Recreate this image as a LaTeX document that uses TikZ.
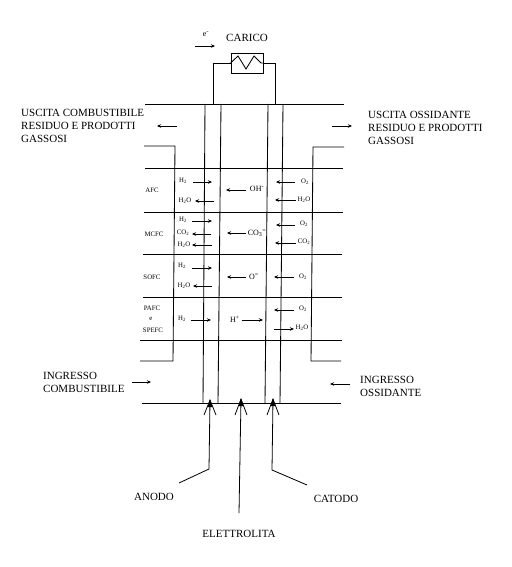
\documentclass[tikz,border=0pt]{standalone}
\usepackage{fontspec}
\setmainfont{Liberation Serif}
\usetikzlibrary{arrows.meta}
\newcommand{\sbs}[1]{\textsubscript{#1}}
\newcommand{\sps}[1]{\textsuperscript{#1}}
\tikzset{
  ln/.style={line width=0.85pt,black},
  flow/.style={line width=0.8pt,black,-{Stealth[length=4pt,width=3.5pt]}},
  pointer/.style={line width=0.8pt,black},
  big/.style={font=\fontsize{11}{12.7}\selectfont,inner sep=0pt,align=left},
  tiny/.style={font=\fontsize{6.8}{8}\selectfont,inner sep=0pt},
  ion/.style={font=\fontsize{8}{9}\selectfont,inner sep=0pt}
}
\begin{document}
\begin{tikzpicture}[x=1pt,y=-1pt]
\useasboundingbox (0,0) rectangle (511,567);
% main horizontal lines
\draw[ln] (145,104) -- (344,104);
\draw[ln] (145,168) -- (343,168);
\draw[ln] (144,212) -- (343,212);
\draw[ln] (143,254) -- (342,254);
\draw[ln] (143,297) -- (342,297);
\draw[ln] (140,340) -- (342,340);
\draw[ln] (142,403) -- (341,403);
% electrodes
\draw[ln] (205,104) -- (203,403);
\draw[ln] (221,104) -- (218,403);
\draw[ln] (268,104) -- (265,403);
\draw[ln] (283,104) -- (280,403);
% channel steps
\draw[ln] (144,146) -- (175,146) -- (173,361) -- (140,361);
\draw[ln] (344,147) -- (313,147) -- (311,361) -- (341,361);
% load
\node[draw,line width=0.85pt,black,minimum width=32pt,minimum height=20pt,inner sep=0pt] (load) at (247,63) {};
\draw[ln] (213,104) -- (213,63) -- (load.west);
\draw[ln] (275,104) -- (275,63) -- (load.east);
\draw[ln] (load.west) -- (238,56) -- (246,69) -- (254,56) -- (261,63) -- (load.east);
\node[big] (carico) at (247,38) {CARICO};
\node[ion] (elec) at (206,34) {e\sps{-}};
\draw[flow] (195,46) -- (215,46);
% outer labels
\node[big,anchor=north west] (uscl) at (21,109.5) {USCITA COMBUSTIBILE\\RESIDUO E PRODOTTI\\GASSOSI};
\node[big,anchor=north west] (uscr) at (368,111.5) {USCITA OSSIDANTE\\RESIDUO E PRODOTTI\\GASSOSI};
\node[big,anchor=north west] (ingl) at (43,372.4) {INGRESSO\\COMBUSTIBILE};
\node[big,anchor=north west] (ingr) at (360,376.4) {INGRESSO\\OSSIDANTE};
\draw[flow] (177,126) -- (157,126);
\draw[flow] (332,126) -- (352,126);
\draw[flow] (132,382) -- (151,382);
\draw[flow] (350,384) -- (330,384);
% row names
\node[tiny] (afc) at (152,190) {AFC};
\node[tiny] (mcfc) at (154,234) {MCFC};
\node[tiny] (sofc) at (152,277) {SOFC};
\node[tiny,align=center] (pafc) at (152,308) {PAFC};
\node[tiny] (e) at (151,319) {e};
\node[tiny] (spefc) at (153,330) {SPEFC};
% AFC
\node[tiny] (a1) at (183,181) {H\sbs{2}};
\draw[flow] (193,182) -- (212,182);
\node[tiny] (a2) at (185,201) {H\sbs{2}O};
\draw[flow] (214,201) -- (195,201);
\node[ion] (a3) at (257,189) {OH\sps{-}};
\draw[flow] (246,190) -- (226,190);
\node[tiny] (a4) at (305,182) {O\sbs{2}};
\draw[flow] (295,182) -- (276,182);
\node[tiny] (a5) at (304,200) {H\sbs{2}O};
\draw[flow] (296,200) -- (275,200);
% MCFC
\node[tiny] (m1) at (183,220) {H\sbs{2}};
\draw[flow] (192,221) -- (212,221);
\node[tiny] (m2) at (183,233) {CO\sbs{2}};
\draw[flow] (211,234) -- (192,234);
\node[tiny] (m3) at (184,245) {H\sbs{2}O};
\draw[flow] (212,245) -- (192,245);
\node[ion] (m4) at (257,233) {CO\sbs{3}\sps{=}};
\draw[flow] (246,233) -- (227,233);
\node[tiny] (m5) at (304,224) {O\sbs{2}};
\draw[flow] (295,225) -- (276,225);
\node[tiny] (m6) at (304,242) {CO\sbs{2}};
\draw[flow] (296,243) -- (275,243);
% SOFC
\node[tiny] (s1) at (182,266) {H\sbs{2}};
\draw[flow] (192,268) -- (212,268);
\node[tiny] (s2) at (184,286) {H\sbs{2}O};
\draw[flow] (212,286) -- (193,286);
\node[ion] (s3) at (254,277) {O\sps{=}};
\draw[flow] (246,277) -- (227,277);
\node[tiny] (s4) at (303,277) {O\sbs{2}};
\draw[flow] (294,277) -- (274,277);
% PAFC
\node[tiny] (p1) at (182,319) {H\sbs{2}};
\draw[flow] (191,320) -- (211,320);
\node[ion] (p2) at (235,319) {H\sps{+}};
\draw[flow] (242,320) -- (263,320);
\node[tiny] (p3) at (303,309) {O\sbs{2}};
\draw[flow] (294,310) -- (274,310);
\node[tiny] (p4) at (302,328) {H\sbs{2}O};
\draw[flow] (274,329) -- (294,329);
% bottom pointers
\node[big] (anodo) at (154,497) {ANODO};
\node[big] (catodo) at (336,499) {CATODO};
\node[big] (elet) at (239,534) {ELETTROLITA};
\coordinate (an) at (179,483);
\coordinate (ca) at (307,485);
\coordinate (el) at (239,513);
\draw[pointer] (an) -- (209,469) -- (210,400);
\draw[pointer] (204,415) -- (210,400) -- (216,415);
\fill[black] (207.5,407) -- (210,400) -- (212.5,407) -- cycle;
\draw[pointer] (el) -- (241,399);
\draw[pointer] (235,415) -- (241,399) -- (247,415);
\fill[black] (238.5,406) -- (241,399) -- (243.5,406) -- cycle;
\draw[pointer] (ca) -- (272,470) -- (273,399);
\draw[pointer] (267,415) -- (273,399) -- (279,415);
\fill[black] (270.5,406) -- (273,399) -- (275.5,406) -- cycle;
\end{tikzpicture}
\end{document}
